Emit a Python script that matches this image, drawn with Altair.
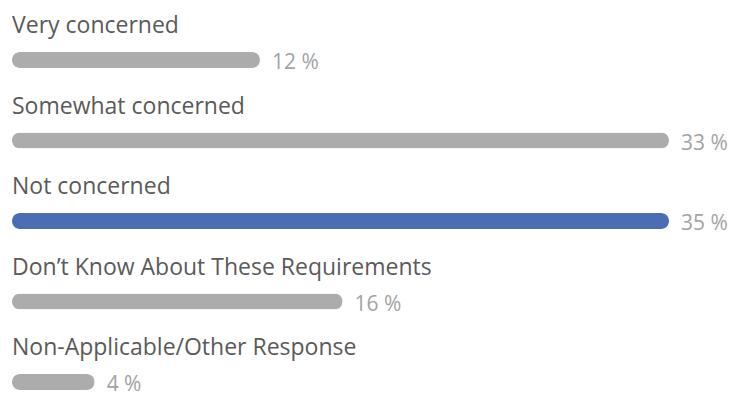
import altair as alt
import pandas as pd

categories = [
    "Very concerned",
    "Somewhat concerned",
    "Not concerned",
    "Don\u2019t Know About These Requirements",
    "Non-Applicable/Other Response",
]
values = [12, 33, 35, 16, 4]
highlight = [False, False, True, False, False]

df = pd.DataFrame({
    "row": list(range(len(categories))),
    "category": categories,
    "value": values,
    "label": [f"{v} %" for v in values],
    "hl": ["yes" if h else "no" for h in highlight],
})

xscale = alt.Scale(domain=[0, 31.8], range=[4, 661], clamp=True)
yscale = alt.Scale(domain=[0, 4], range=[47, 379])

base = alt.Chart(df)

bars = base.mark_bar(orient="horizontal", size=16, cornerRadius=8).encode(
    x=alt.X("value:Q", scale=xscale, axis=None),
    y=alt.Y("row:Q", scale=yscale, axis=None),
    color=alt.Color("hl:N", scale=alt.Scale(domain=["no", "yes"], range=["#acacac", "#4a6db3"]), legend=None),
)

cat_text = base.mark_text(
    align="left", baseline="alphabetic", dy=-27, font="Open Sans", fontSize=23, color="#5a5a5a"
).encode(
    x=alt.value(4),
    y=alt.Y("row:Q", scale=yscale, axis=None),
    text="category:N",
)

val_text = base.mark_text(
    align="left", baseline="alphabetic", dx=12, dy=9, font="Open Sans", fontSize=21, color="#a3a3a3"
).encode(
    x=alt.X("value:Q", scale=xscale, axis=None),
    y=alt.Y("row:Q", scale=yscale, axis=None),
    text="label:N",
)

chart = alt.layer(bars, cat_text, val_text).properties(
    width=721, height=390, padding=0, background="white",
    autosize=alt.AutoSizeParams(type="none"),
).configure_view(strokeWidth=0, stroke="transparent")

chart.save("out.html", embed_options={"renderer": "svg", "actions": False})
